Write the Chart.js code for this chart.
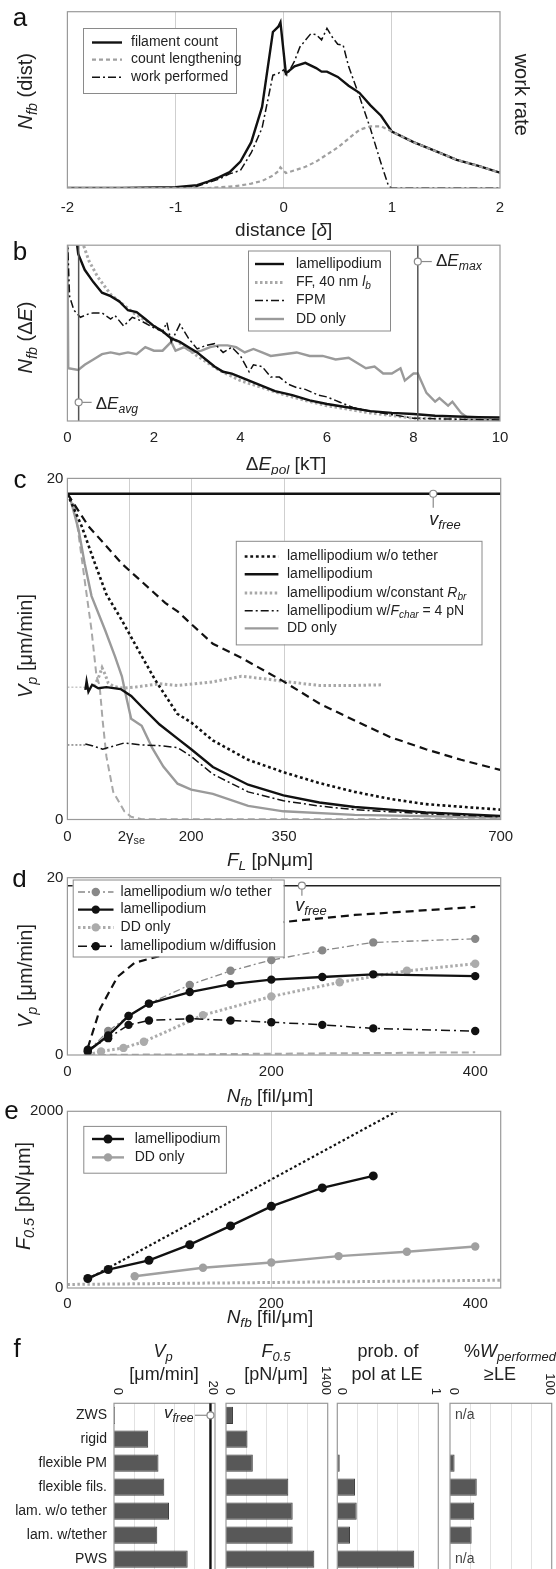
<!DOCTYPE html>
<html>
<head>
<meta charset="utf-8">
<title>Lamellipodium protrusion model</title>
<script src="https://cdn.jsdelivr.net/npm/chart.js@4.4.1/dist/chart.umd.min.js"></script>
<style>
  html, body { margin: 0; padding: 0; background: #fff; }
  body { position: relative; width: 556px; height: 1569px; overflow: hidden; }
  canvas { position: absolute; }
</style>
</head>
<body>
<canvas id="chartA" width="556" height="245" style="left:0;top:0"></canvas>
<canvas id="chartB" width="556" height="235" style="left:0;top:240px"></canvas>
<canvas id="chartC" width="556" height="405" style="left:0;top:470px"></canvas>
<canvas id="chartD" width="556" height="240" style="left:0;top:870px"></canvas>
<canvas id="chartE" width="556" height="232" style="left:0;top:1104px"></canvas>
<canvas id="chartF1" width="220" height="245" style="left:0;top:1330px"></canvas>
<canvas id="chartF2" width="112" height="245" style="left:220px;top:1330px"></canvas>
<canvas id="chartF3" width="110" height="245" style="left:332px;top:1330px"></canvas>
<canvas id="chartF4" width="112" height="245" style="left:444px;top:1330px"></canvas>
<script>
// ---- panel a: distance [delta]
const distA = [-2, -1.5, -1, -0.8, -0.7, -0.6, -0.5, -0.4, -0.3, -0.2, -0.1, -0.05, -0.03, 0.02, 0.1, 0.2, 0.3, 0.35, 0.4, 0.5, 0.6, 0.7, 0.8, 0.9, 1.0, 1.2, 1.4, 1.6, 1.8, 2.0];
const filamentCount = [0, 0, 0.004, 0.016, 0.036, 0.06, 0.09, 0.15, 0.26, 0.46, 0.885, 0.915, 0.94, 0.65, 0.69, 0.71, 0.68, 0.66, 0.66, 0.63, 0.58, 0.54, 0.47, 0.41, 0.32, 0.26, 0.21, 0.16, 0.125, 0.087];
const countLengthening = [0, 0, 0, 0, 0, 0.004, 0.008, 0.014, 0.025, 0.04, 0.07, 0.095, 0.117, 0.085, 0.1, 0.12, 0.15, 0.17, 0.19, 0.23, 0.28, 0.33, 0.35, 0.35, 0.32, 0.26, 0.21, 0.16, 0.125, 0.087];
const workX = [-2, -1, -0.8, -0.6, -0.5, -0.4, -0.3, -0.2, -0.1, -0.05, 0, 0.03, 0.1, 0.15, 0.25, 0.3, 0.35, 0.4, 0.45, 0.5, 0.55, 0.6, 0.7, 0.8, 0.9, 0.97, 1.0, 2.0];
const workPerformed = [0, 0.002, 0.01, 0.05, 0.08, 0.1, 0.2, 0.34, 0.64, 0.65, 0.67, 0.64, 0.72, 0.8, 0.875, 0.87, 0.84, 0.905, 0.855, 0.815, 0.81, 0.69, 0.52, 0.34, 0.14, 0.01, 0, 0];
const aTicks = [-2, -1, 0, 1, 2];

// ---- panel b: dE_pol [kT]
const bLamX = [0.2, 0.25, 0.4, 0.6, 0.8, 1.0, 1.2, 1.4, 1.6, 1.8, 2.0, 2.2, 2.4, 2.6, 2.8, 3.0, 3.2, 3.4, 3.6, 3.8, 4.0, 4.4, 4.8, 5.2, 5.6, 6.0, 6.5, 7.0, 7.5, 8.0, 8.5, 9.0, 9.5, 10];
const bLam = [1.05, 0.95, 0.86, 0.79, 0.73, 0.71, 0.68, 0.63, 0.62, 0.58, 0.54, 0.51, 0.47, 0.45, 0.42, 0.39, 0.35, 0.31, 0.28, 0.27, 0.25, 0.21, 0.17, 0.147, 0.117, 0.097, 0.077, 0.056, 0.046, 0.04, 0.03, 0.026, 0.022, 0.02];
const bFfX = [0.3, 0.5, 0.7, 1.0, 1.5, 2.0, 2.5, 3.0, 3.5, 4.0, 4.5, 5.0, 5.5, 6.0, 7.0, 8.0, 9.0, 10];
const bFf = [1.05, 0.91, 0.82, 0.72, 0.62, 0.54, 0.46, 0.37, 0.29, 0.23, 0.19, 0.15, 0.117, 0.087, 0.046, 0.016, 0.01, 0.006];
const bFpmX = [0, 0.05, 0.15, 0.3, 0.5, 0.6, 0.8, 1.0, 1.1, 1.3, 1.5, 1.7, 2.0, 2.2, 2.3, 2.4, 2.6, 2.8, 3.0, 3.2, 3.4, 3.6, 3.8, 4.0, 4.2, 4.3, 4.5, 4.7, 4.9, 5.1, 5.3, 5.5, 5.8, 6.0, 6.3, 6.6, 7.0, 7.5, 8.0, 9.0, 10];
const bFpm = [1.05, 0.71, 0.63, 0.59, 0.61, 0.615, 0.615, 0.58, 0.6, 0.54, 0.59, 0.57, 0.53, 0.51, 0.56, 0.45, 0.55, 0.47, 0.41, 0.43, 0.44, 0.39, 0.42, 0.37, 0.28, 0.32, 0.31, 0.25, 0.25, 0.21, 0.19, 0.18, 0.147, 0.137, 0.107, 0.077, 0.056, 0.036, 0.016, 0.01, 0.006];
const bDdX = [0, 0.02, 0.25, 0.4, 0.6, 0.8, 1.0, 1.2, 1.4, 1.6, 1.8, 2.0, 2.2, 2.4, 2.5, 2.7, 2.9, 3.1, 3.3, 3.5, 3.7, 3.9, 4.1, 4.3, 4.5, 4.7, 5.0, 5.3, 5.6, 5.9, 6.2, 6.5, 6.7, 6.9, 7.1, 7.3, 7.5, 7.7, 7.8, 8.0, 8.1, 8.3, 8.5, 8.6, 8.8, 8.9, 9.1, 9.3, 10];
const bDd = [1.05, 0.3, 0.29, 0.32, 0.35, 0.38, 0.39, 0.38, 0.39, 0.38, 0.42, 0.40, 0.40, 0.45, 0.40, 0.42, 0.39, 0.40, 0.42, 0.43, 0.43, 0.42, 0.39, 0.41, 0.39, 0.37, 0.38, 0.39, 0.37, 0.37, 0.35, 0.36, 0.33, 0.30, 0.31, 0.27, 0.27, 0.30, 0.23, 0.27, 0.27, 0.16, 0.11, 0.13, 0.087, 0.11, 0.046, 0.01, 0.006];
const eAvg = 0.26, eMax = 8.1;
const bTicks = [0, 2, 4, 6, 8, 10];

// ---- panel c: F_L [pN/um] vs V_p
const vFree = 19.1;
const cNoTetherF = [0, 23, 44.6, 63, 87.7, 114.5, 141.5, 177.5, 200.4, 234.8, 292, 349.4, 406.7, 464, 521, 578.6, 699];
const cNoTetherV = [19.1, 17.2, 15.0, 13.2, 11.7, 9.94, 8.2, 6.2, 5.68, 4.64, 3.5, 2.77, 2.14, 1.62, 1.21, 0.9, 0.58];
const cTheoryF = [0, 34, 88, 158, 178, 235, 280, 349, 407, 464, 521, 579, 636, 699];
const cTheoryV = [19.1, 17.2, 15.0, 12.7, 12.2, 10.3, 9.5, 8.1, 6.8, 5.8, 4.84, 4.12, 3.5, 2.91];
const cDdTheoryF = [0, 12, 28, 39, 47, 52, 57, 63, 74, 92, 103, 120, 700];
const cDdTheoryV = [19.1, 18.35, 14.0, 11.1, 8.4, 7.86, 5.78, 3.7, 1.62, 0.48, 0.16, 0.02, 0.02];
const cDdF = [0, 4, 18, 28, 39, 61, 77, 88, 95, 103, 120, 137, 155, 178, 200, 235, 292, 349, 464, 699];
const cDdV = [19.1, 18.9, 17.0, 15.0, 13.1, 11.1, 9.55, 8.4, 7.2, 5.9, 5.5, 4.2, 3.1, 2.1, 1.75, 1.5, 0.8, 0.48, 0.27, 0.12];
const cLamF = [29, 31, 34, 40, 50, 63, 86, 103, 120, 149, 178, 200, 235, 292, 349, 407, 464, 579, 699];
const cLamV = [7.6, 8.1, 7.5, 7.9, 7.7, 7.76, 7.65, 7.24, 6.61, 5.57, 4.74, 4.12, 3.08, 2.04, 1.41, 1.0, 0.73, 0.42, 0.21];
const cRbrF = [43, 50, 56, 61, 66, 75, 90, 109, 149, 178, 206, 235, 281, 321, 349, 407, 464, 510];
const cRbrV = [7.8, 8.3, 8.9, 8.5, 8.0, 7.8, 7.7, 7.76, 7.96, 7.86, 7.96, 8.07, 8.4, 8.24, 8.1, 7.86, 7.86, 7.9];
const cFcharF = [29, 40, 57, 92, 120, 149, 178, 200, 235, 292, 349, 407, 464, 579, 699];
const cFcharV = [4.43, 4.33, 4.12, 4.49, 4.37, 4.33, 4.22, 3.7, 2.66, 1.62, 1.1, 0.79, 0.58, 0.33, 0.16];
const cGuideF = [0, 29];
const cGuideLam = [7.76, 7.76];
const cGuideFchar = [4.37, 4.37];
const cTicks = [0, 100, 200, 350, 700];

// ---- panel d: N_fb [fil/um] vs V_p
const dN = [20, 40, 60, 80, 120, 160, 200, 250, 300, 400];
const dNoTether = [0.4, 2.7, 4.4, 5.8, 7.9, 9.5, 10.7, 11.8, 12.7, 13.1];
const dLam = [0.4, 2.2, 4.4, 5.8, 7.1, 8.0, 8.5, 8.8, 9.1, 8.9];
const dDiffusion = [0.6, 1.9, 3.4, 3.9, 4.1, 3.9, 3.7, 3.4, 3.0, 2.7];
const dDdN = [20, 33, 55, 75, 133, 200, 267, 333, 400];
const dDd = [0, 0.4, 0.8, 1.5, 4.5, 6.6, 8.2, 9.5, 10.3];
const dTheoryN = [20, 32, 49, 66, 98, 115, 212, 282, 400];
const dTheory = [0.8, 5.2, 8.8, 10.4, 11.4, 12.4, 15.0, 15.8, 16.7];
const dFloorN = [20, 400];
const dFloor = [0, 0.3];
const nTicks = [0, 200, 400];

// ---- panel e: N_fb [fil/um] vs F_0.5
const eLamN = [20, 40, 80, 120, 160, 200, 250, 300];
const eLam = [108, 209, 313, 490, 703, 924, 1133, 1269];
const eDdN = [66, 133, 200, 266, 333, 400];
const eDd = [133, 229, 289, 361, 410, 470];
const eSlopeN = [20, 323];
const eSlope = [100, 2000];
const eFloorN = [0, 425];
const eFloor = [40, 88];

// ---- panel f: bar summaries
const fCats = ['ZWS', 'rigid', 'flexible PM', 'flexible fils.', 'lam. w/o tether', 'lam. w/tether', 'PWS'];
const fVp = [0.2, 6.77, 8.81, 9.96, 10.89, 8.57, 14.59];
const fF05 = [96, 296, 369, 858, 918, 918, 1216];
const fProb = [0, 0, 0.024, 0.175, 0.192, 0.126, 0.762];
const fWork = [null, 0, 4.5, 26.3, 23.9, 21.3, null];

const FONT = '"Liberation Sans", Arial, Helvetica, sans-serif';
Chart.defaults.font.family = FONT;
Chart.defaults.color = '#222';
Chart.defaults.animation = false;
Chart.defaults.responsive = false;
Chart.defaults.devicePixelRatio = 1;
Chart.defaults.plugins.legend.display = false;
Chart.defaults.plugins.tooltip.enabled = false;

// line styles
const solidBlack = { borderColor: '#111', borderWidth: 2.4 };
const solidGray = { borderColor: '#9a9a9a', borderWidth: 2.4 };
const dashGray = { borderColor: '#a0a0a0', borderWidth: 2.2, borderDash: [4, 3] };
const dotGray = { borderColor: '#a8a8a8', borderWidth: 3, borderDash: [2.5, 2.5] };
const dashDot = { borderColor: '#111', borderWidth: 1.5, borderDash: [8, 3, 2, 3] };
const shortDash = { borderColor: '#111', borderWidth: 2.6, borderDash: [2.8, 2.8] };
const longDash = { borderColor: '#111', borderWidth: 2.2, borderDash: [8, 5] };
const longDashGray = { borderColor: '#a8a8a8', borderWidth: 2, borderDash: [7, 4] };
const thinDotGray = { borderColor: '#a8a8a8', borderWidth: 1, borderDash: [2, 2] };
const thinDotBlack = { borderColor: '#444', borderWidth: 1, borderDash: [2, 2] };
const markerLine = { borderColor: '#555', borderWidth: 1.5 };
const dotBlack = { borderColor: '#111', borderWidth: 2.2, borderDash: [2.5, 2.5] };
const dNoTetherSt = { borderColor: '#888', borderWidth: 1.3, borderDash: [7, 3, 2, 3], pointRadius: 4.2, pointBackgroundColor: '#888', pointBorderWidth: 0 };
const dLamSt = { borderColor: '#111', borderWidth: 2.4, pointRadius: 4.2, pointBackgroundColor: '#111', pointBorderWidth: 0 };
const dDdSt = { borderColor: '#ababab', borderWidth: 3, borderDash: [2.5, 2.5], pointRadius: 4.2, pointBackgroundColor: '#ababab', pointBorderWidth: 0 };
const dDiffSt = { borderColor: '#111', borderWidth: 1.5, borderDash: [9, 4, 2, 4], pointRadius: 4.2, pointBackgroundColor: '#111', pointBorderWidth: 0 };
const eLamSt = { borderColor: '#111', borderWidth: 2.4, pointRadius: 4.5, pointBackgroundColor: '#111', pointBorderWidth: 0 };
const eDdSt = { borderColor: '#a0a0a0', borderWidth: 2.4, pointRadius: 4.2, pointBackgroundColor: '#a0a0a0', pointBorderWidth: 0 };

function line(xs, ys, style) {
  return Object.assign({
    data: xs.map((x, i) => ({ x, y: ys[i] })),
    showLine: true, pointRadius: 0, pointHoverRadius: 0, fill: false, tension: 0
  }, style);
}

function xAxis(min, max, ticks, grid, height, pad, labelFn) {
  return {
    type: 'linear', min, max,
    afterBuildTicks: s => { s.ticks = ticks.map(v => ({ value: v })); },
    afterFit: s => { s.height = height; },
    grid: { drawTicks: false, lineWidth: 1, color: c => grid.includes(c.tick.value) ? '#cfcfcf' : 'rgba(0,0,0,0)' },
    border: { display: false },
    ticks: { padding: pad, font: { size: 15 }, color: '#222', maxRotation: 0, autoSkip: false, callback: labelFn || (v => String(v)) }
  };
}

function yAxis(min, max, showTicks) {
  return {
    type: 'linear', min, max,
    afterBuildTicks: s => { s.ticks = [min, max].map(v => ({ value: v })); },
    afterFit: s => { s.width = 67.4; s.paddingTop = 0; s.paddingBottom = 0; },
    grid: { display: false, drawTicks: false },
    border: { display: false },
    ticks: { display: showTicks, padding: 4, font: { size: 15 }, color: '#222', callback: v => String(v) }
  };
}

// text with italic / subscript parts: [text, 'i' | 's' | 'is' | '']
function rich(c, parts, x, y, size, align, angle, color) {
  c.save();
  c.translate(x, y);
  if (angle) c.rotate(angle);
  c.fillStyle = color || '#222';
  c.textBaseline = 'middle';
  c.textAlign = 'left';
  const fontOf = st => (st.includes('i') ? 'italic ' : '') + (st.includes('s') ? size * 0.72 : size) + 'px ' + FONT;
  let w = 0;
  parts.forEach(([t, st]) => { c.font = fontOf(st); w += c.measureText(t).width; });
  let cx = align === 'center' ? -w / 2 : align === 'right' ? -w : 0;
  parts.forEach(([t, st]) => {
    c.font = fontOf(st);
    c.fillText(t, cx, st.includes('s') ? size * 0.3 : 0);
    cx += c.measureText(t).width;
  });
  c.restore();
}

function legendBox(c, box, rows) {
  c.save();
  c.fillStyle = '#fff';
  c.fillRect(box.x, box.y, box.w, box.h);
  c.strokeStyle = '#8a8a8a';
  c.lineWidth = 1;
  c.strokeRect(box.x + 0.5, box.y + 0.5, box.w, box.h);
  rows.forEach(r => {
    const st = r.st;
    c.strokeStyle = st.borderColor;
    c.lineWidth = st.borderWidth;
    c.setLineDash(st.borderDash || []);
    c.beginPath(); c.moveTo(box.s0, r.y); c.lineTo(box.s1, r.y); c.stroke();
    c.setLineDash([]);
    if (st.pointRadius) {
      c.fillStyle = st.pointBackgroundColor;
      c.beginPath(); c.arc((box.s0 + box.s1) / 2, r.y, st.pointRadius, 0, Math.PI * 2); c.fill();
    }
    rich(c, r.label, box.tx, r.y, 14, 'left');
  });
  c.restore();
}

function ring(c, x, y) {
  c.save();
  c.strokeStyle = '#8a8a8a'; c.lineWidth = 1.2; c.fillStyle = '#fff';
  c.beginPath(); c.arc(x, y, 3.5, 0, Math.PI * 2); c.fill(); c.stroke();
  c.restore();
}

function seg(c, x0, y0, x1, y1) {
  c.save();
  c.strokeStyle = '#8a8a8a'; c.lineWidth = 1.2;
  c.beginPath(); c.moveTo(x0, y0); c.lineTo(x1, y1); c.stroke();
  c.restore();
}

// frame + decorations drawn in page coordinates
function deco(left, top, draw) {
  return {
    id: 'deco',
    afterDraw(chart) {
      const c = chart.ctx, a = chart.chartArea;
      c.save();
      c.strokeStyle = '#9a9a9a'; c.lineWidth = 1.2;
      c.strokeRect(a.left, a.top, a.right - a.left, a.bottom - a.top);
      c.translate(-left, -top);
      const px = v => chart.scales.x.getPixelForValue(v) + left;
      const py = v => chart.scales.y.getPixelForValue(v) + top;
      draw(c, px, py);
      c.restore();
    }
  };
}

const ROT_UP = -Math.PI / 2, ROT_DOWN = Math.PI / 2;
const NFB = [['N', 'i'], ['fb', 'is']];
const VP = [['V', 'i'], ['p', 'is'], [' [\u03bcm/min]', '']];
const VFREE = [['v', 'i'], ['free', 'is']];

// ---------- a ----------
new Chart(document.getElementById('chartA'), {
  type: 'scatter',
  data: { datasets: [
    line(distA, countLengthening, dashGray),
    line(distA, filamentCount, solidBlack),
    line(workX, workPerformed, dashDot)
  ] },
  options: {
    layout: { padding: { top: 11.7, right: 56, bottom: 0, left: 0 } },
    scales: { x: xAxis(-2, 2, aTicks, [-1, 0, 1], 57, 10.4), y: yAxis(0, 1, false) }
  },
  plugins: [deco(0, 0, (c) => {
    legendBox(c, { x: 83, y: 28, w: 153, h: 65, s0: 92, s1: 122, tx: 131 }, [
      { y: 42.5, st: solidBlack, label: [['filament count', '']] },
      { y: 59.6, st: dashGray, label: [['count lengthening', '']] },
      { y: 77.3, st: dashDot, label: [['work performed', '']] }
    ]);
    rich(c, [['a', '']], 20, 18.5, 26, 'center', 0, '#111');
    rich(c, NFB.concat([[' (dist)', '']]), 26.6, 91.3, 20, 'center', ROT_UP);
    rich(c, [['work rate', '']], 521, 94.8, 20, 'center', ROT_DOWN);
    rich(c, [['distance [', ''], ['\u03b4', 'i'], [']', '']], 283.7, 231, 19, 'center');
  })]
});

// ---------- b ----------
new Chart(document.getElementById('chartB'), {
  type: 'scatter',
  data: { datasets: [
    line([eAvg, eAvg], [0, 1], markerLine),
    line([eMax, eMax], [0, 1], markerLine),
    line(bLamX, bLam, solidBlack),
    line(bFpmX, bFpm, dashDot),
    line(bFfX, bFf, dotGray),
    line(bDdX, bDd, solidGray)
  ] },
  options: {
    layout: { padding: { top: 5.2, right: 56, bottom: 0, left: 0 } },
    scales: { x: xAxis(0, 10, bTicks, [], 54, 7.8), y: yAxis(0, 1, false) }
  },
  plugins: [deco(0, 240, (c, px, py) => {
    legendBox(c, { x: 248, y: 250.5, w: 142, h: 80, s0: 255, s1: 284, tx: 296 }, [
      { y: 264, st: solidBlack, label: [['lamellipodium', '']] },
      { y: 282.4, st: dotGray, label: [['FF, 40 nm ', ''], ['l', 'i'], ['b', 'is']] },
      { y: 300.5, st: dashDot, label: [['FPM', '']] },
      { y: 319, st: solidGray, label: [['DD only', '']] }
    ]);
    seg(c, px(eMax), py(0.907), px(eMax) + 14, py(0.907));
    ring(c, px(eMax), py(0.907));
    rich(c, [['\u0394', ''], ['E', 'i'], ['max', 'is']], 436, py(0.907), 17, 'left');
    seg(c, px(eAvg), py(0.106), px(eAvg) + 13, py(0.106));
    ring(c, px(eAvg), py(0.106));
    rich(c, [['\u0394', ''], ['E', 'i'], ['avg', 'is']], 95.7, py(0.106) + 2, 17, 'left');
    rich(c, [['b', '']], 20, 252.5, 26, 'center', 0, '#111');
    rich(c, NFB.concat([[' (\u0394', ''], ['E', 'i'], [')', '']]), 26.6, 337.5, 20, 'center', ROT_UP);
    rich(c, [['\u0394', ''], ['E', 'i'], ['pol', 'is'], [' [kT]', '']], 286, 465, 19, 'center');
  })]
});

// ---------- c ----------
new Chart(document.getElementById('chartC'), {
  type: 'scatter',
  data: { datasets: [
    line([0, 700], [vFree, vFree], solidBlack),
    line(cLamF, cLamV, solidBlack),
    line(cFcharF, cFcharV, dashDot),
    line(cNoTetherF, cNoTetherV, shortDash),
    line(cTheoryF, cTheoryV, longDash),
    line(cRbrF, cRbrV, dotGray),
    line(cDdF, cDdV, solidGray),
    line(cDdTheoryF, cDdTheoryV, longDashGray),
    line(cGuideF, cGuideLam, thinDotGray),
    line(cGuideF, cGuideFchar, thinDotBlack)
  ] },
  options: {
    layout: { padding: { top: 8.4, right: 55.3, bottom: 0, left: 0 } },
    scales: {
      x: xAxis(0, 700, cTicks, [100, 200, 350], 55.5, 8.5, v => v === 100 ? '' : String(v)),
      y: yAxis(0, 20, true)
    }
  },
  plugins: [deco(0, 470, (c, px, py) => {
    legendBox(c, { x: 235.8, y: 540.8, w: 245.7, h: 103.6, s0: 244.7, s1: 278.4, tx: 287 }, [
      { y: 556.5, st: shortDash, label: [['lamellipodium w/o tether', '']] },
      { y: 574.2, st: solidBlack, label: [['lamellipodium', '']] },
      { y: 593, st: dotGray, label: [['lamellipodium w/constant ', ''], ['R', 'i'], ['br', 'is']] },
      { y: 610.7, st: dashDot, label: [['lamellipodium w/', ''], ['F', 'i'], ['char', 'is'], [' = 4 pN', '']] },
      { y: 628.4, st: solidGray, label: [['DD only', '']] }
    ]);
    seg(c, px(591), py(vFree), px(591), py(vFree) + 14);
    ring(c, px(591), py(vFree));
    rich(c, VFREE, 445, 520, 18, 'center');
    rich(c, [['2\u03b3', ''], ['se', 's']], px(100) + 2, 837, 15, 'center');
    rich(c, [['c', '']], 20, 481, 26, 'center', 0, '#111');
    rich(c, VP, 26.6, 646, 20, 'center', ROT_UP);
    rich(c, [['F', 'i'], ['L', 'is'], [' [pN\u03bcm]', '']], 270, 861, 19, 'center');
  })]
});

// ---------- d ----------
new Chart(document.getElementById('chartD'), {
  type: 'scatter',
  data: { datasets: [
    line([0, 425], [vFree, vFree], { borderColor: '#222', borderWidth: 1.6 }),
    line(dN, dLam, dLamSt),
    line(dN, dDiffusion, dDiffSt),
    line(dN, dNoTether, dNoTetherSt),
    line(dDdN, dDd, dDdSt),
    line(dTheoryN, dTheory, longDash),
    line(dFloorN, dFloor, longDashGray)
  ] },
  options: {
    layout: { padding: { top: 7.7, right: 55.3, bottom: 0, left: 0 } },
    scales: { x: xAxis(0, 425, nTicks, [200], 55, 8), y: yAxis(0, 20, true) }
  },
  plugins: [deco(0, 870, (c, px, py) => {
    legendBox(c, { x: 72.7, y: 879.5, w: 211, h: 77, s0: 78, s1: 113.5, tx: 120.6 }, [
      { y: 892, st: dNoTetherSt, label: [['lamellipodium w/o tether', '']] },
      { y: 909.6, st: dLamSt, label: [['lamellipodium', '']] },
      { y: 927.4, st: dDdSt, label: [['DD only', '']] },
      { y: 946.2, st: dDiffSt, label: [['lamellipodium w/diffusion', '']] }
    ]);
    seg(c, px(230), py(vFree), px(230), py(vFree) + 10);
    ring(c, px(230), py(vFree));
    rich(c, VFREE, 311, 906, 18, 'center');
    rich(c, [['d', '']], 19.5, 879.5, 26, 'center', 0, '#111');
    rich(c, VP, 26.6, 976, 20, 'center', ROT_UP);
    rich(c, NFB.concat([[' [fil/\u03bcm]', '']]), 270, 1097, 19, 'center');
  })]
});

// ---------- e ----------
new Chart(document.getElementById('chartE'), {
  type: 'scatter',
  data: { datasets: [
    line(eLamN, eLam, eLamSt),
    line(eDdN, eDd, eDdSt),
    line(eSlopeN, eSlope, dotBlack),
    line(eFloorN, eFloor, dotGray)
  ] },
  options: {
    layout: { padding: { top: 7.3, right: 55.3, bottom: 0, left: 0 } },
    scales: { x: xAxis(0, 425, nTicks, [200], 48, 7), y: yAxis(0, 2000, true) }
  },
  plugins: [deco(0, 1104, (c) => {
    legendBox(c, { x: 83.3, y: 1125.9, w: 142.6, h: 46.8, s0: 92, s1: 124, tx: 134.7 }, [
      { y: 1139, st: eLamSt, label: [['lamellipodium', '']] },
      { y: 1157.4, st: eDdSt, label: [['DD only', '']] }
    ]);
    rich(c, [['e', '']], 11.4, 1112, 26, 'center', 0, '#111');
    rich(c, [['F', 'i'], ['0.5', 'is'], [' [pN/\u03bcm]', '']], 24, 1196, 20, 'center', ROT_UP);
    rich(c, NFB.concat([[' [fil/\u03bcm]', '']]), 270, 1318, 19, 'center');
  })]
});

// ---------- f ----------
function fOptions(max, gridVals, padL, padR, showCats) {
  return {
    indexAxis: 'y',
    layout: { padding: { top: 73.3, bottom: 4, left: padL, right: padR } },
    scales: {
      x: {
        type: 'linear', position: 'top', min: 0, max,
        afterBuildTicks: s => { s.ticks = gridVals.map(v => ({ value: v })); },
        afterFit: s => { s.height = 0; s.paddingLeft = 0; s.paddingRight = 0; },
        grid: { drawTicks: false, color: '#e2e2e2', lineWidth: 1 },
        border: { display: false },
        ticks: { display: false }
      },
      y: showCats ? {
        type: 'category',
        afterFit: s => { s.width = 114; s.paddingTop = 0; s.paddingBottom = 0; },
        grid: { display: false, drawTicks: false },
        border: { display: false },
        ticks: { padding: 7, font: { size: 14 }, color: '#222' }
      } : { display: false }
    }
  };
}

function fBars(values) {
  return { labels: fCats, datasets: [{
    data: values, backgroundColor: '#585858', borderColor: '#3e3e3e', borderWidth: 1,
    barPercentage: 0.72, categoryPercentage: 1
  }] };
}

function endLabels(c, px, lo, hi, loText, hiText) {
  rich(c, [[loText, '']], px(lo) + 4, 1395, 13, 'right', ROT_DOWN);
  rich(c, [[hiText, '']], px(hi) - 2.5, 1395, 13, 'right', ROT_DOWN);
}

new Chart(document.getElementById('chartF1'), {
  type: 'bar',
  data: fBars(fVp),
  options: fOptions(20, [4, 8, 12, 16], 0, 5, true),
  plugins: [deco(0, 1330, (c, px, py) => {
    c.save();
    c.strokeStyle = '#111'; c.lineWidth = 2.4;
    c.beginPath(); c.moveTo(px(vFree), 1403.3); c.lineTo(px(vFree), 1575); c.stroke();
    c.restore();
    seg(c, 195, py(0), px(vFree), py(0));
    ring(c, px(vFree), py(0));
    rich(c, VFREE, 193.5, py(0) - 2, 17, 'right');
    endLabels(c, px, 0, 20, '0', '20');
    rich(c, [['f', '']], 17, 1350, 26, 'center', 0, '#111');
    rich(c, [['V', 'i'], ['p', 'is']], 163, 1352, 18, 'center');
    rich(c, [['[\u03bcm/min]', '']], 164, 1375, 18, 'center');
  })]
});

new Chart(document.getElementById('chartF2'), {
  type: 'bar',
  data: fBars(fF05),
  options: fOptions(1400, [280, 560, 840, 1120], 6, 4.3, false),
  plugins: [deco(220, 1330, (c, px) => {
    endLabels(c, px, 0, 1400, '0', '1400');
    rich(c, [['F', 'i'], ['0.5', 'is']], 276, 1352, 18, 'center');
    rich(c, [['[pN/\u03bcm]', '']], 276, 1375, 18, 'center');
  })]
});

new Chart(document.getElementById('chartF3'), {
  type: 'bar',
  data: fBars(fProb),
  options: fOptions(1, [0.2, 0.4, 0.6, 0.8], 5.3, 3.7, false),
  plugins: [deco(332, 1330, (c, px) => {
    endLabels(c, px, 0, 1, '0', '1');
    rich(c, [['prob. of', '']], 388, 1352, 18, 'center');
    rich(c, [['pol at LE', '']], 387, 1375, 18, 'center');
  })]
});

new Chart(document.getElementById('chartF4'), {
  type: 'bar',
  data: fBars(fWork),
  options: fOptions(100, [20, 40, 60, 80], 6, 4.3, false),
  plugins: [deco(444, 1330, (c, px, py) => {
    endLabels(c, px, 0, 100, '0', '100');
    fWork.forEach((v, i) => { if (v === null) rich(c, [['n/a', '']], 455, py(i), 14, 'left', 0, '#444'); });
    rich(c, [['%', ''], ['W', 'i'], ['performed', 'is']], 510, 1352, 18, 'center');
    rich(c, [['\u2265LE', '']], 500, 1375, 18, 'center');
  })]
});
</script>
</body>
</html>
